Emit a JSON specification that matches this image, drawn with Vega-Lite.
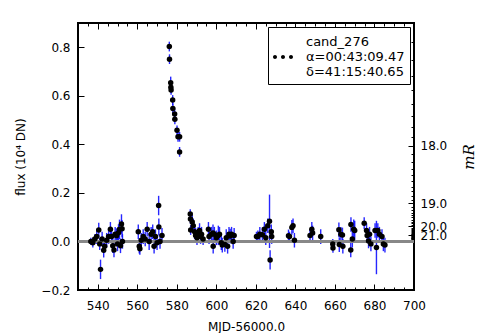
{
  "$schema": "https://vega.github.io/schema/vega-lite/v6.json",
  "autosize": "none",
  "width": 336,
  "height": 267,
  "padding": {"left": 78, "top": 23, "right": 66, "bottom": 43},
  "background": "white",
  "config": {
    "font": "DejaVu Sans",
    "view": {"stroke": "black", "strokeWidth": 2},
    "axis": {"grid": false, "domain": false, "tickColor": "black", "labelColor": "black", "titleColor": "black", "labelFontSize": 12, "titleFontSize": 12, "titleFontWeight": "normal", "labelFont": "DejaVu Sans", "titleFont": "DejaVu Sans", "tickWidth": 1, "labelFlush": false, "labelOverlap": false, "labelBound": false}
  },
  "data": {"values": [
    {"mjd": 536.5, "flux": 0.0, "err": 0.015, "src": "cand_276"},
    {"mjd": 537.5, "flux": -0.005, "err": 0.02, "src": "cand_276"},
    {"mjd": 538.5, "flux": 0.01, "err": 0.02, "src": "cand_276"},
    {"mjd": 539.5, "flux": 0.02, "err": 0.03, "src": "cand_276"},
    {"mjd": 540.5, "flux": 0.047, "err": 0.03, "src": "cand_276"},
    {"mjd": 541.0, "flux": -0.01, "err": 0.025, "src": "cand_276"},
    {"mjd": 541.4, "flux": -0.115, "err": 0.04, "src": "cand_276"},
    {"mjd": 542.2, "flux": 0.01, "err": 0.03, "src": "cand_276"},
    {"mjd": 543.0, "flux": -0.036, "err": 0.03, "src": "cand_276"},
    {"mjd": 543.5, "flux": -0.02, "err": 0.025, "src": "cand_276"},
    {"mjd": 544.5, "flux": 0.005, "err": 0.03, "src": "cand_276"},
    {"mjd": 545.5, "flux": 0.02, "err": 0.03, "src": "cand_276"},
    {"mjd": 546.4, "flux": 0.05, "err": 0.03, "src": "cand_276"},
    {"mjd": 547.0, "flux": 0.02, "err": 0.025, "src": "cand_276"},
    {"mjd": 547.6, "flux": -0.018, "err": 0.03, "src": "cand_276"},
    {"mjd": 548.2, "flux": -0.035, "err": 0.03, "src": "cand_276"},
    {"mjd": 548.8, "flux": 0.03, "err": 0.03, "src": "cand_276"},
    {"mjd": 549.5, "flux": 0.024, "err": 0.03, "src": "cand_276"},
    {"mjd": 550.0, "flux": -0.01, "err": 0.03, "src": "cand_276"},
    {"mjd": 550.5, "flux": 0.036, "err": 0.035, "src": "cand_276"},
    {"mjd": 551.0, "flux": 0.05, "err": 0.04, "src": "cand_276"},
    {"mjd": 551.5, "flux": -0.018, "err": 0.03, "src": "cand_276"},
    {"mjd": 552.0, "flux": 0.072, "err": 0.04, "src": "cand_276"},
    {"mjd": 552.3, "flux": 0.052, "err": 0.035, "src": "cand_276"},
    {"mjd": 552.5, "flux": 0.0, "err": 0.03, "src": "cand_276"},
    {"mjd": 560.5, "flux": 0.04, "err": 0.03, "src": "cand_276"},
    {"mjd": 561.0, "flux": -0.02, "err": 0.03, "src": "cand_276"},
    {"mjd": 561.3, "flux": -0.03, "err": 0.025, "src": "cand_276"},
    {"mjd": 562.0, "flux": 0.005, "err": 0.03, "src": "cand_276"},
    {"mjd": 563.0, "flux": 0.02, "err": 0.03, "src": "cand_276"},
    {"mjd": 564.0, "flux": 0.01, "err": 0.03, "src": "cand_276"},
    {"mjd": 565.0, "flux": 0.05, "err": 0.03, "src": "cand_276"},
    {"mjd": 566.0, "flux": 0.0, "err": 0.035, "src": "cand_276"},
    {"mjd": 567.0, "flux": 0.03, "err": 0.03, "src": "cand_276"},
    {"mjd": 567.8, "flux": 0.04, "err": 0.03, "src": "cand_276"},
    {"mjd": 568.5, "flux": -0.02, "err": 0.03, "src": "cand_276"},
    {"mjd": 569.2, "flux": 0.02, "err": 0.03, "src": "cand_276"},
    {"mjd": 570.0, "flux": -0.005, "err": 0.03, "src": "cand_276"},
    {"mjd": 570.8, "flux": 0.148, "err": 0.04, "src": "cand_276"},
    {"mjd": 570.9, "flux": 0.06, "err": 0.035, "src": "cand_276"},
    {"mjd": 571.5, "flux": 0.0, "err": 0.03, "src": "cand_276"},
    {"mjd": 572.5, "flux": 0.025, "err": 0.03, "src": "cand_276"},
    {"mjd": 576.2, "flux": 0.803, "err": 0.02, "src": "cand_276"},
    {"mjd": 576.3, "flux": 0.751, "err": 0.02, "src": "cand_276"},
    {"mjd": 576.9, "flux": 0.654, "err": 0.025, "src": "cand_276"},
    {"mjd": 577.0, "flux": 0.635, "err": 0.02, "src": "cand_276"},
    {"mjd": 577.1, "flux": 0.624, "err": 0.02, "src": "cand_276"},
    {"mjd": 577.9, "flux": 0.583, "err": 0.02, "src": "cand_276"},
    {"mjd": 578.0, "flux": 0.548, "err": 0.02, "src": "cand_276"},
    {"mjd": 578.9, "flux": 0.525, "err": 0.02, "src": "cand_276"},
    {"mjd": 579.0, "flux": 0.503, "err": 0.02, "src": "cand_276"},
    {"mjd": 580.1, "flux": 0.458, "err": 0.02, "src": "cand_276"},
    {"mjd": 580.6, "flux": 0.431, "err": 0.02, "src": "cand_276"},
    {"mjd": 581.4, "flux": 0.431, "err": 0.02, "src": "cand_276"},
    {"mjd": 581.4, "flux": 0.369, "err": 0.02, "src": "cand_276"},
    {"mjd": 586.8, "flux": 0.113, "err": 0.02, "src": "cand_276"},
    {"mjd": 586.9, "flux": 0.093, "err": 0.02, "src": "cand_276"},
    {"mjd": 587.0, "flux": 0.047, "err": 0.02, "src": "cand_276"},
    {"mjd": 587.8, "flux": 0.08, "err": 0.03, "src": "cand_276"},
    {"mjd": 588.3, "flux": 0.065, "err": 0.03, "src": "cand_276"},
    {"mjd": 589.0, "flux": 0.04, "err": 0.03, "src": "cand_276"},
    {"mjd": 589.5, "flux": 0.025, "err": 0.03, "src": "cand_276"},
    {"mjd": 590.2, "flux": 0.015, "err": 0.03, "src": "cand_276"},
    {"mjd": 590.8, "flux": 0.03, "err": 0.03, "src": "cand_276"},
    {"mjd": 591.5, "flux": 0.045, "err": 0.03, "src": "cand_276"},
    {"mjd": 592.0, "flux": 0.02, "err": 0.03, "src": "cand_276"},
    {"mjd": 592.5, "flux": 0.03, "err": 0.03, "src": "cand_276"},
    {"mjd": 593.3, "flux": 0.01, "err": 0.025, "src": "cand_276"},
    {"mjd": 596.0, "flux": 0.05, "err": 0.03, "src": "cand_276"},
    {"mjd": 596.3, "flux": 0.02, "err": 0.03, "src": "cand_276"},
    {"mjd": 597.5, "flux": 0.03, "err": 0.03, "src": "cand_276"},
    {"mjd": 598.3, "flux": 0.035, "err": 0.035, "src": "cand_276"},
    {"mjd": 598.4, "flux": -0.02, "err": 0.03, "src": "cand_276"},
    {"mjd": 599.0, "flux": 0.03, "err": 0.03, "src": "cand_276"},
    {"mjd": 600.0, "flux": 0.015, "err": 0.03, "src": "cand_276"},
    {"mjd": 601.0, "flux": 0.025, "err": 0.04, "src": "cand_276"},
    {"mjd": 601.6, "flux": 0.03, "err": 0.03, "src": "cand_276"},
    {"mjd": 602.5, "flux": -0.005, "err": 0.03, "src": "cand_276"},
    {"mjd": 603.0, "flux": -0.015, "err": 0.03, "src": "cand_276"},
    {"mjd": 604.3, "flux": -0.012, "err": 0.03, "src": "cand_276"},
    {"mjd": 605.0, "flux": 0.015, "err": 0.035, "src": "cand_276"},
    {"mjd": 605.7, "flux": -0.02, "err": 0.03, "src": "cand_276"},
    {"mjd": 606.4, "flux": 0.03, "err": 0.03, "src": "cand_276"},
    {"mjd": 607.0, "flux": 0.022, "err": 0.03, "src": "cand_276"},
    {"mjd": 607.7, "flux": 0.03, "err": 0.03, "src": "cand_276"},
    {"mjd": 608.5, "flux": 0.0, "err": 0.03, "src": "cand_276"},
    {"mjd": 609.0, "flux": 0.025, "err": 0.03, "src": "cand_276"},
    {"mjd": 620.3, "flux": 0.02, "err": 0.02, "src": "cand_276"},
    {"mjd": 621.0, "flux": 0.02, "err": 0.025, "src": "cand_276"},
    {"mjd": 622.0, "flux": 0.03, "err": 0.03, "src": "cand_276"},
    {"mjd": 623.3, "flux": 0.028, "err": 0.03, "src": "cand_276"},
    {"mjd": 624.3, "flux": 0.05, "err": 0.03, "src": "cand_276"},
    {"mjd": 625.0, "flux": 0.015, "err": 0.03, "src": "cand_276"},
    {"mjd": 626.0, "flux": 0.065, "err": 0.03, "src": "cand_276"},
    {"mjd": 626.9, "flux": 0.083, "err": 0.11, "src": "cand_276"},
    {"mjd": 627.2, "flux": -0.076, "err": 0.04, "src": "cand_276"},
    {"mjd": 627.8, "flux": 0.04, "err": 0.03, "src": "cand_276"},
    {"mjd": 628.0, "flux": 0.02, "err": 0.03, "src": "cand_276"},
    {"mjd": 636.5, "flux": 0.024, "err": 0.025, "src": "cand_276"},
    {"mjd": 637.0, "flux": 0.02, "err": 0.02, "src": "cand_276"},
    {"mjd": 638.2, "flux": 0.058, "err": 0.03, "src": "cand_276"},
    {"mjd": 638.8, "flux": 0.065, "err": 0.03, "src": "cand_276"},
    {"mjd": 639.5, "flux": 0.005, "err": 0.03, "src": "cand_276"},
    {"mjd": 647.4, "flux": 0.025, "err": 0.025, "src": "cand_276"},
    {"mjd": 648.3, "flux": 0.05, "err": 0.03, "src": "cand_276"},
    {"mjd": 648.7, "flux": 0.035, "err": 0.03, "src": "cand_276"},
    {"mjd": 652.8, "flux": 0.02, "err": 0.03, "src": "cand_276"},
    {"mjd": 658.9, "flux": -0.01, "err": 0.02, "src": "cand_276"},
    {"mjd": 659.0, "flux": -0.027, "err": 0.02, "src": "cand_276"},
    {"mjd": 662.0, "flux": 0.048, "err": 0.03, "src": "cand_276"},
    {"mjd": 662.2, "flux": -0.013, "err": 0.03, "src": "cand_276"},
    {"mjd": 663.0, "flux": 0.03, "err": 0.03, "src": "cand_276"},
    {"mjd": 663.8, "flux": 0.027, "err": 0.03, "src": "cand_276"},
    {"mjd": 664.0, "flux": -0.02, "err": 0.03, "src": "cand_276"},
    {"mjd": 668.0, "flux": -0.035, "err": 0.03, "src": "cand_276"},
    {"mjd": 668.1, "flux": 0.07, "err": 0.03, "src": "cand_276"},
    {"mjd": 668.8, "flux": 0.01, "err": 0.035, "src": "cand_276"},
    {"mjd": 669.5, "flux": 0.05, "err": 0.04, "src": "cand_276"},
    {"mjd": 670.0, "flux": 0.045, "err": 0.04, "src": "cand_276"},
    {"mjd": 674.8, "flux": 0.075, "err": 0.025, "src": "cand_276"},
    {"mjd": 676.0, "flux": 0.045, "err": 0.03, "src": "cand_276"},
    {"mjd": 676.3, "flux": 0.025, "err": 0.03, "src": "cand_276"},
    {"mjd": 677.0, "flux": 0.002, "err": 0.03, "src": "cand_276"},
    {"mjd": 677.5, "flux": 0.03, "err": 0.03, "src": "cand_276"},
    {"mjd": 678.2, "flux": -0.01, "err": 0.03, "src": "cand_276"},
    {"mjd": 680.3, "flux": 0.045, "err": 0.03, "src": "cand_276"},
    {"mjd": 681.0, "flux": -0.025, "err": 0.11, "src": "cand_276"},
    {"mjd": 681.7, "flux": 0.045, "err": 0.03, "src": "cand_276"},
    {"mjd": 682.5, "flux": 0.03, "err": 0.03, "src": "cand_276"},
    {"mjd": 683.8, "flux": 0.02, "err": 0.03, "src": "cand_276"},
    {"mjd": 684.5, "flux": -0.01, "err": 0.03, "src": "cand_276"},
    {"mjd": 685.3, "flux": -0.015, "err": 0.03, "src": "cand_276"}
  ]},
  "resolve": {"scale": {"x": "independent", "y": "independent"}, "axis": {"x": "independent", "y": "independent"}},
  "layer": [
    {
      "layer": [
        {
          "mark": {"type": "errorbar", "color": "#0000ff", "thickness": 1.4, "opacity": 0.85},
          "encoding": {
            "x": {"field": "mjd", "type": "quantitative",
                  "scale": {"domain": [530, 700], "nice": false, "zero": false},
                  "axis": null},
            "y": {"field": "flux", "type": "quantitative", "title": "flux (10⁴ DN)",
                  "scale": {"domain": [-0.2, 0.9], "nice": false, "zero": false},
                  "axis": {"orient": "left", "title": "flux (10⁴ DN)",
                           "values": [-0.2,-0.15,-0.1,-0.05,0,0.05,0.1,0.15,0.2,0.25,0.3,0.35,0.4,0.45,0.5,0.55,0.6,0.65,0.7,0.75,0.8,0.85,0.9],
                           "labelExpr": "abs(datum.value*5 - round(datum.value*5)) < 0.001 ? format(datum.value, '.1f') : ''",
                           "tickSize": {"condition": {"test": "abs(datum.value*5 - round(datum.value*5)) < 0.001", "value": -6}, "value": -3},
                           "labelPadding": 14, "titlePadding": 13}},
            "yError": {"field": "err"}
          }
        },
        {
          "mark": {"type": "rule", "color": "#888888", "strokeWidth": 2},
          "encoding": {"y": {"datum": 0}}
        },
        {
          "mark": {"type": "point", "filled": true, "size": 30, "opacity": 1},
          "encoding": {
            "x": {"field": "mjd", "type": "quantitative"},
            "y": {"field": "flux", "type": "quantitative"},
            "color": {"field": "src", "type": "nominal", "scale": {"range": ["black"]},
                      "legend": {"orient": "top-right", "offset": 4, "title": null,
                                 "strokeColor": "black", "fillColor": "white", "padding": 5,
                                 "labelFontSize": 13, "labelFont": "DejaVu Sans", "labelColor": "black", "labelLimit": 0,
                                 "labelExpr": "['cand_276', 'α=00:43:09.47', 'δ=41:15:40.65']",
                                 "symbolType": "M-1,1.5A0.2,0.2,0,1,1,-0.6,1.5A0.2,0.2,0,1,1,-1,1.5Z M-0.2,1.5A0.2,0.2,0,1,1,0.2,1.5A0.2,0.2,0,1,1,-0.2,1.5Z M0.6,1.5A0.2,0.2,0,1,1,1,1.5A0.2,0.2,0,1,1,0.6,1.5Z",
                                 "symbolSize": 400, "symbolFillColor": "black", "symbolStrokeWidth": 0, "labelOffset": 13,
                                 "encode": {"legend": {"update": {"strokeWidth": {"value": 2}}}, "labels": {"update": {"lineHeight": {"value": 15}}}}}}
          }
        }
      ]
    },
    {
      "mark": {"type": "point", "opacity": 0},
      "encoding": {
        "x": {"field": "mjd", "type": "quantitative",
              "scale": {"domain": [530, 700], "nice": false, "zero": false},
              "axis": {"orient": "bottom", "title": "MJD-56000.0",
                       "values": [530,535,540,545,550,555,560,565,570,575,580,585,590,595,600,605,610,615,620,625,630,635,640,645,650,655,660,665,670,675,680,685,690,695,700],
                       "labelExpr": "datum.value % 20 == 0 ? format(datum.value, 'd') : ''",
                       "tickSize": {"condition": {"test": "datum.value % 20 == 0", "value": -6}, "value": -3},
                       "labelPadding": 16, "titlePadding": 7}},
        "y": {"field": "flux", "type": "quantitative",
              "scale": {"domain": [-0.2, 0.9], "nice": false, "zero": false},
              "axis": {"orient": "right", "title": "mR", "titleFont": "DejaVu Serif", "titleFontStyle": "italic", "titleFontSize": 15, "titleAngle": -90, "titlePadding": 30,
                       "values": [0.821,0.7489,0.6831,0.623,0.5683,0.5183,0.4727,0.4312,0.3933,0.3587,0.3272,0.2984,0.2721,0.2482,0.2264,0.2065,0.1883,0.1717,0.1566,0.1428,0.1302,0.1188,0.1083,0.0988,0.0901,0.0822,0.075,0.0684,0.0623,0.0569,0.0519,0.0473,0.0431,0.0393,0.0359,0.0327,0.0298,0.0272,0.0248,0.0226,0.0206,0.0188,0.0171,0.0156,0.0143,0.013,0.0119,0.0108],
                       "labelExpr": "datum.value == 0.3933 ? '18.0' : datum.value == 0.1566 ? '19.0' : datum.value == 0.0623 ? '20.0' : datum.value == 0.0248 ? '21.0' : ''",
                       "tickSize": {"condition": {"test": "indexof([0.3933, 0.1566, 0.0623, 0.0248], datum.value) >= 0", "value": -6}, "value": -3},
                       "labelPadding": 12}}
      }
    },
    {
      "mark": {"type": "point", "opacity": 0},
      "encoding": {
        "x": {"field": "mjd", "type": "quantitative",
              "scale": {"domain": [530, 700], "nice": false, "zero": false},
              "axis": {"orient": "top", "title": null, "labels": false,
                       "values": [530,535,540,545,550,555,560,565,570,575,580,585,590,595,600,605,610,615,620,625,630,635,640,645,650,655,660,665,670,675,680,685,690,695,700],
                       "tickSize": {"condition": {"test": "datum.value % 20 == 0", "value": -6}, "value": -3}}},
        "y": {"field": "flux", "type": "quantitative",
              "scale": {"domain": [-0.2, 0.9], "nice": false, "zero": false},
              "axis": null}
      }
    }
  ]
}
